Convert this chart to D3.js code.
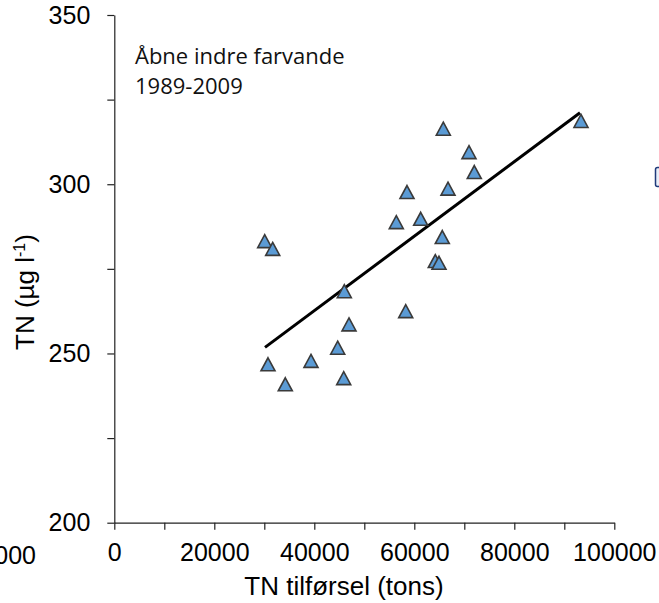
<!DOCTYPE html>
<html>
<head>
<meta charset="utf-8">
<script src="https://cdn.jsdelivr.net/npm/d3@7"></script>
<style>
  body { margin: 0; background: #fff; }
  svg { display: block; }
  .axis text { font-family: "Liberation Sans", Arial, sans-serif; font-size: 25px; fill: #000; }
  .axis path, .axis line { stroke: #222; stroke-width: 1.2px; }
</style>
</head>
<body>
<div id="chart"></div>
<script>
// TN tilførsel (tons) vs TN (µg l-1), 1989-2009
var tnLoad = [93340, 65800, 70940, 72000, 58540, 66740, 56400, 61280, 65600, 64200, 64940,
              30080, 31680, 46000, 58280, 46940, 44680, 30740, 39340, 34200, 45880];
var tnConc = [318.7, 316.4, 309.5, 303.6, 297.7, 298.7, 288.8, 289.8, 284.4, 277.3, 276.8,
              283.2, 280.9, 268.4, 262.5, 258.6, 251.7, 246.8, 247.8, 240.9, 242.7];
// trend line end points
var trendX = [30140, 93140];
var trendY = [251.8, 321.1];

var xTicks = [0, 10000, 20000, 30000, 40000, 50000, 60000, 70000, 80000, 90000, 100000];
var yTicks = [200, 225, 250, 275, 300, 325, 350];

function renderScatter(container){
    const width = 659, height = 603;
    const left = 114.3, top = 15, plotW = 500, plotH = 507.7;

    const xScale = d3.scaleLinear().domain([0, 100000]).range([left, left + plotW]);
    const yScale = d3.scaleLinear().domain([200, 350]).range([top + plotH, top]);

    var svg = d3.select(container)
        .append('svg')
        .attr('width', width)
        .attr('height', height);

    // x axis
    svg.append('g')
        .attr('class', 'axis')
        .attr('transform', `translate(0,${yScale(200)})`)
        .call(d3.axisBottom(xScale)
            .tickValues(xTicks)
            .tickSizeInner(7)
            .tickSizeOuter(0)
            .tickPadding(14)
            .tickFormat(function(d){ return d % 20000 === 0 ? d : ''; }));

    // y axis
    svg.append('g')
        .attr('class', 'axis')
        .attr('transform', `translate(${xScale(0)},0)`)
        .call(d3.axisLeft(yScale)
            .tickValues(yTicks)
            .tickSizeInner(7)
            .tickSizeOuter(0)
            .tickPadding(17)
            .tickFormat(function(d){ return d % 50 === 0 ? d : ''; }));

    // clipped label from neighbouring panel
    svg.append('text')
        .attr('x', 36).attr('y', 564)
        .attr('text-anchor', 'end')
        .style('font-family', '"Liberation Sans", Arial, sans-serif')
        .style('font-size', '25px')
        .text('100000');

    // small mark cut at right edge
    svg.append('rect')
        .attr('x', 655.5).attr('y', 167.5)
        .attr('width', 10).attr('height', 19)
        .attr('rx', 2)
        .style('fill', '#e8eef8')
        .style('stroke', '#1f3a7a')
        .style('stroke-width', 1.5);

    // axis titles
    svg.append('text')
        .attr('x', 344).attr('y', 595)
        .attr('text-anchor', 'middle')
        .style('font-family', '"Liberation Sans", Arial, sans-serif')
        .style('font-size', '26px')
        .text('TN tilførsel (tons)');

    var yt = svg.append('text')
        .attr('transform', 'translate(34,292) rotate(-90)')
        .attr('text-anchor', 'middle')
        .style('font-family', '"Liberation Sans", Arial, sans-serif')
        .style('font-size', '26px');
    yt.append('tspan').text('TN (µg l');
    yt.append('tspan').attr('dy', -9).style('font-size', '16px').text('-1');
    yt.append('tspan').attr('dy', 9).text(')');

    // annotation
    var note = svg.append('text')
        .style('font-family', '"Open Sans", sans-serif')
        .style('font-size', '22px')
        .style('fill', '#111');
    note.append('tspan').attr('x', 135).attr('y', 64).text('Åbne indre farvande');
    note.append('tspan').attr('x', 135).attr('y', 94).text('1989-2009');

    // trend line
    svg.append('line')
        .attr('x1', xScale(trendX[0])).attr('y1', yScale(trendY[0]))
        .attr('x2', xScale(trendX[1])).attr('y2', yScale(trendY[1]))
        .style('stroke', '#000')
        .style('stroke-width', 3);

    // triangle markers
    var points = tnLoad.map(function(d, i){ return {x: d, y: tnConc[i]}; });
    var tri = 'M0,-6.5L7,6.5L-7,6.5Z';
    svg.append('g').attr('class', 'points')
        .selectAll('path')
        .data(points)
        .enter()
        .append('path')
        .attr('d', tri)
        .attr('transform', function(d){ return `translate(${xScale(d.x)},${yScale(d.y)})`; })
        .style('fill', '#5b9bd5')
        .style('stroke', '#3a3a3a')
        .style('stroke-width', 1.6)
        .style('stroke-linejoin', 'miter');
}

renderScatter(document.getElementById('chart'));
</script>
</body>
</html>
